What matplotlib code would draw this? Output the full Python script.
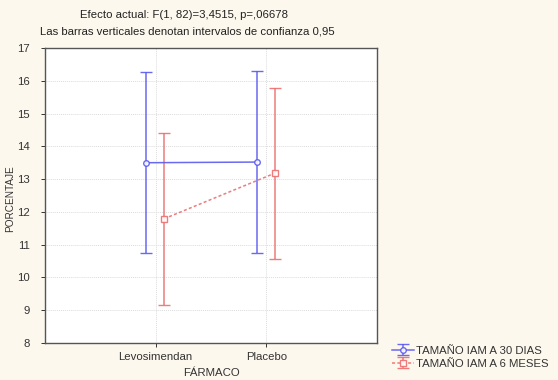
import matplotlib
matplotlib.use("Agg")
import matplotlib.pyplot as plt
import numpy as np

plt.rcParams['font.family'] = ['Liberation Sans', 'DejaVu Sans']

categories = ["Levosimendan", "Placebo"]
series_names = ["TAMAÑO IAM A 30 DIAS", "TAMAÑO IAM A 6 MESES"]
means_30d = [13.50, 13.52]
lower_30d = [10.74, 10.76]
upper_30d = [16.28, 16.30]
means_6m = [11.79, 13.18]
lower_6m = [9.16, 10.57]
upper_6m = [14.42, 15.78]
yticks = [8, 9, 10, 11, 12, 13, 14, 15, 16, 17]

bg = "#fdf8ee"
blue = "#5a5af0"
red = "#ec6e6e"
fs = 8.2

fig = plt.figure(figsize=(5.58, 3.80), dpi=100, facecolor=bg)
ax = fig.add_axes([45/558, 1-343/380, (377-45)/558, (343-48)/380])
ax.set_facecolor("white")

x = np.arange(1, len(categories)+1)
off = 0.083

for xs, m, lo, hi, col, mk, ls, name in [
    (x - off, means_30d, lower_30d, upper_30d, blue, "o", "-", series_names[0]),
    (x + off*0.92, means_6m, lower_6m, upper_6m, red, "s", (0, (2, 1.5)), series_names[1]),
]:
    m = np.array(m); lo = np.array(lo); hi = np.array(hi)
    ax.errorbar(xs, m, yerr=[m - lo, hi - m], ecolor=col, color=col,
                elinewidth=1.1, capsize=4.5, capthick=1.1, alpha=0.9,
                linestyle=ls, linewidth=1.1, marker=mk, markersize=4,
                markerfacecolor="white", markeredgecolor=col,
                markeredgewidth=1.0, label=name)

ax.set_xlim(0, 3)
ax.set_ylim(8, 17)
ax.set_yticks(yticks)
ax.set_xticks(x)
ax.set_xticklabels(categories)
ax.grid(True, color="#dcdcdc", linestyle=(0, (1, 1)), linewidth=0.7)
ax.tick_params(axis="both", labelsize=fs, colors="#333333", length=3, width=0.7)
ax.tick_params(axis="y", pad=8)
for s in ax.spines.values():
    s.set_color("#555555")
    s.set_linewidth(1.0)

ax.set_ylabel("PORCENTAJE", fontsize=7.2, color="#333333")
ax.yaxis.set_label_coords(-30/332, 0.49)
ax.set_xlabel("FÁRMACO", fontsize=fs, color="#333333", labelpad=4)

fig.text(184/558, 1-15/380, "Efecto actual: F(1, 82)=3,4515, p=,06678",
         ha="center", va="center", fontsize=fs, color="#222222")
fig.text(187/558, 1-31/380, "Las barras verticales denotan intervalos de confianza 0,95",
         ha="center", va="center", fontsize=fs, color="#222222")

leg = ax.legend(loc="upper left", bbox_to_anchor=(386/558, 1-340/380),
                bbox_transform=fig.transFigure, frameon=False, fontsize=fs,
                handlelength=2.0, handletextpad=0.1, borderpad=0, labelspacing=0.25)
for t in leg.get_texts():
    t.set_color("#333333")

fig.savefig("out.png", dpi=100, facecolor=bg)
